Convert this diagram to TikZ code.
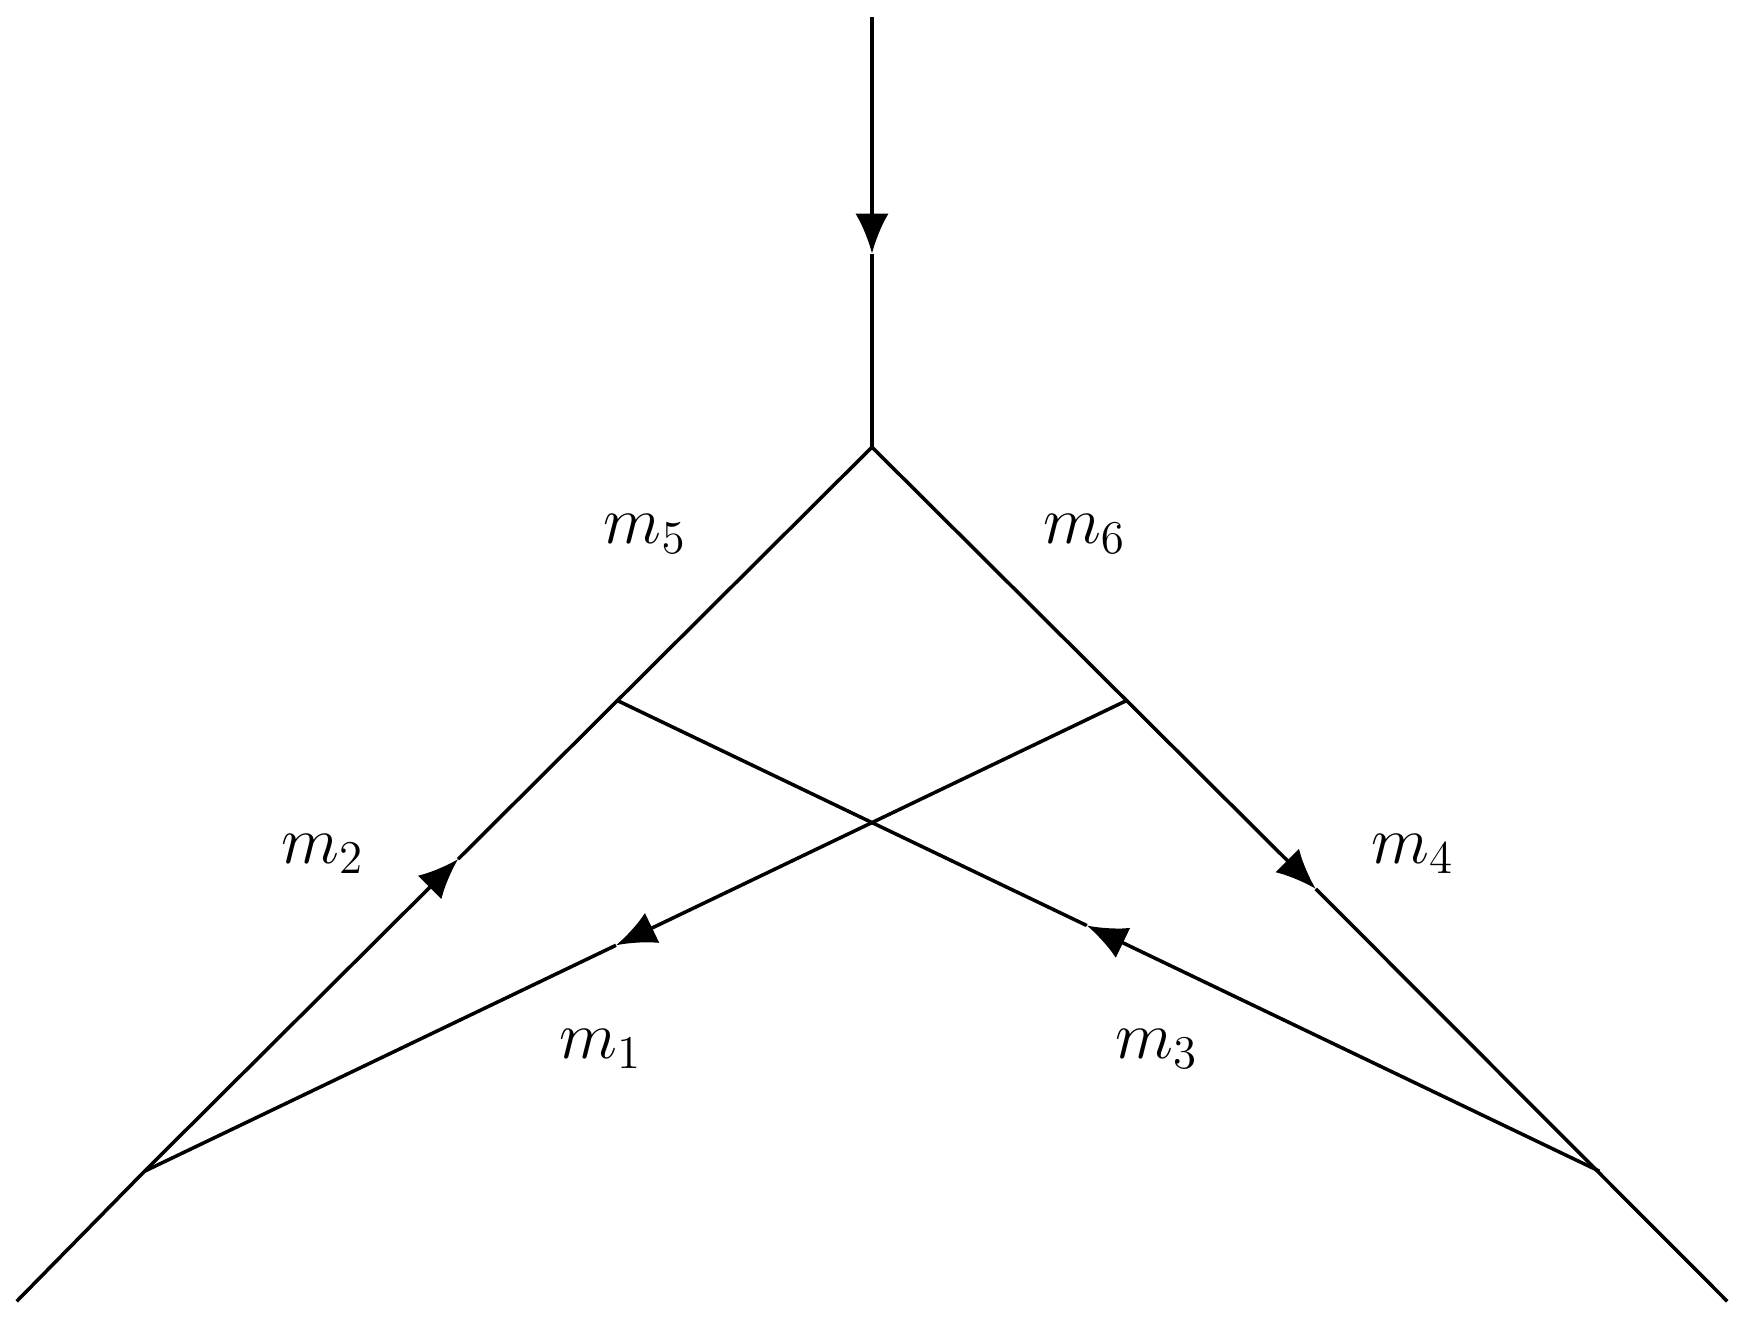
\documentclass[tikz,border=0pt]{standalone}
\usetikzlibrary{arrows.meta,calc}
\begin{document}
\begin{tikzpicture}[x=0.01cm,y=-0.01cm,line width=0.9pt,
  arr/.style={-{Latex[length=0.36cm,width=0.3cm]}},
  lab/.style={font=\fontsize{17}{20}\selectfont}]
\useasboundingbox (0,0) rectangle (1568,1190);
\coordinate (T) at (784,15);
\coordinate (A) at (784,402);
\coordinate (L) at (130,1053);
\coordinate (R) at (1438,1053);
\coordinate (BL) at (15,1170);
\coordinate (BR) at (1553,1170);
\coordinate (P) at ($(L)!0.65!(A)$);
\coordinate (Q) at ($(R)!0.65!(A)$);
\coordinate (t1) at (784,228);
\coordinate (t2) at ($(L)!0.431!(A)$);
\coordinate (t3) at ($(A)!0.61!(R)$);
\coordinate (t4) at ($(Q)!0.52!(L)$);
\coordinate (t5) at ($(R)!0.522!(P)$);
\draw[arr] (T) -- (t1);
\draw (t1) -- (A);
\draw[arr] (L) -- (t2);
\draw (t2) -- (A);
\draw[arr] (A) -- (t3);
\draw (t3) -- (BR);
\draw (BL) -- (L);
\draw[arr] (Q) -- (t4);
\draw (t4) -- (L);
\draw[arr] (R) -- (t5);
\draw (t5) -- (P);
\node[lab] (m5) at (580,480) {$m_5$};
\node[lab] (m6) at (975,480) {$m_6$};
\node[lab] (m2) at (290,768) {$m_2$};
\node[lab] (m4) at (1270,768) {$m_4$};
\node[lab] (m1) at (540,943) {$m_1$};
\node[lab] (m3) at (1040,943) {$m_3$};
\end{tikzpicture}
\end{document}
